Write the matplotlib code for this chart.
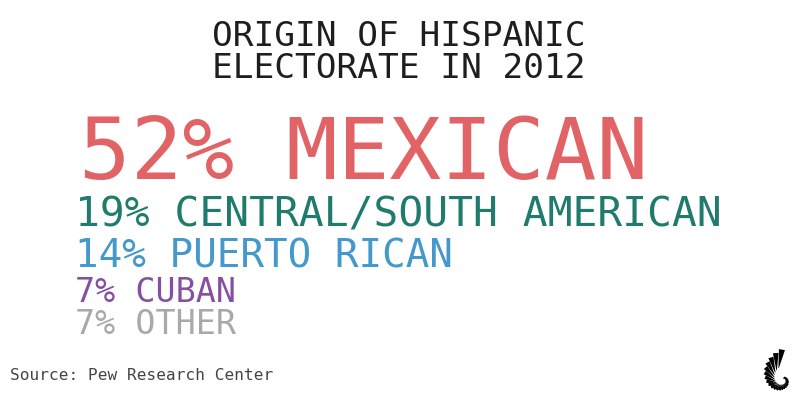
import numpy as np
import matplotlib.pyplot as plt

# values
shares = [52, 19, 14, 7, 7]
origins = ['MEXICAN', 'CENTRAL/SOUTH AMERICAN', 'PUERTO RICAN', 'CUBAN', 'OTHER']
colors = ['#e16366', '#1f7b6b', '#4398cc', '#8550a1', '#a9a9a9']

title_lines = ['ORIGIN OF HISPANIC', 'ELECTORATE IN 2012']
source = 'Source: Pew Research Center'

# layout (pixels on the 800x400 canvas)
sizes = [61.8, 29.7, 28.3, 24, 24]
baselines = [179, 227, 267, 302, 334]
lefts = [79, 75, 75, 75, 75]

W, H = 800, 400
fig = plt.figure(figsize=(8, 4), dpi=100)
fig.patch.set_facecolor('white')

mono = 'DejaVu Sans Mono'


def fx(x):
    return x / W


def fy(y):
    return 1 - y / H


for i, line in enumerate(title_lines):
    fig.text(fx(399), fy(46 + 32 * i), line, ha='center', va='baseline',
             fontsize=24.8, family=mono, color='#1e1e1e')

for s, o, c, fs, b, l in zip(shares, origins, colors, sizes, baselines, lefts):
    fig.text(fx(l), fy(b), f'{s}% {o}', ha='left', va='baseline',
             fontsize=fs, family=mono, color=c)

fig.text(fx(10), fy(380), source, ha='left', va='baseline',
         fontsize=11.6, family=mono, color='#444444')

# small shell logo, bottom right (axes in pixel units)
lax = fig.add_axes([fx(755), fy(395), 40 / W, 50 / H])
lax.set_xlim(0, 40)
lax.set_ylim(0, 50)
lax.axis('off')
cx, cy = 28, 15
for phi in np.deg2rad(np.linspace(92, 420, 26)):
    r_o = 30 * np.exp(-0.38 * (phi - np.deg2rad(94)))
    r_i = 0.42 * r_o
    a_i = phi + np.deg2rad(18)
    xo, yo = cx + r_o * np.cos(phi), cy + r_o * np.sin(phi)
    xi, yi = cx + r_i * np.cos(a_i), cy + r_i * np.sin(a_i)
    # tapered stroke: wide at the outer end, thin at the inner end
    d = np.array([xo - xi, yo - yi])
    n = np.array([-d[1], d[0]]) / np.hypot(*d)
    wo = 0.085 * r_o + 0.45
    wi = 0.25
    px = [xi + n[0] * wi, xo + n[0] * wo, xo - n[0] * wo, xi - n[0] * wi]
    py = [yi + n[1] * wi, yo + n[1] * wo, yo - n[1] * wo, yi - n[1] * wi]
    lax.fill(px, py, color='black', lw=0)

fig.savefig('out.png', dpi=100)
